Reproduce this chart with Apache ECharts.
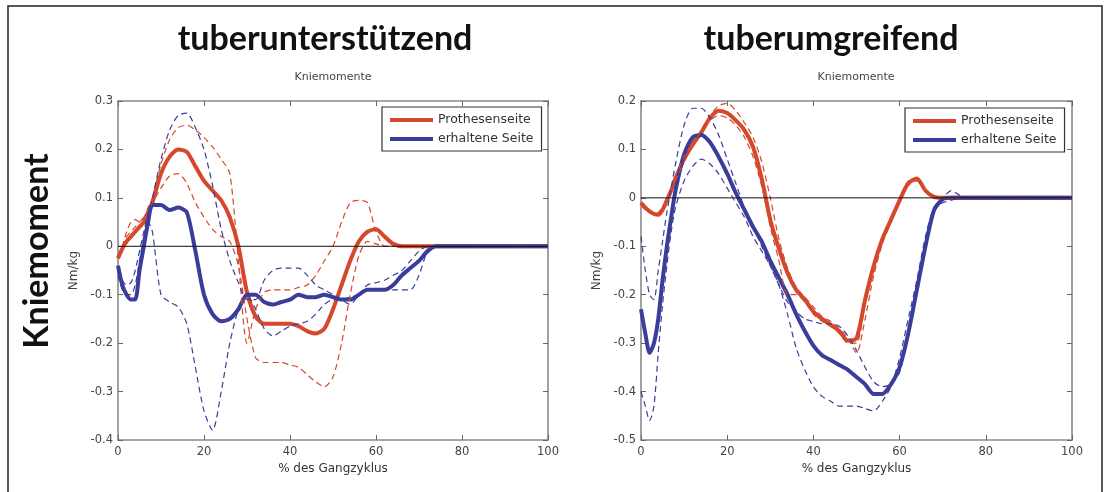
<!DOCTYPE html>
<html><head><meta charset="utf-8">
<script src="https://cdn.jsdelivr.net/npm/echarts@6/dist/echarts.min.js"></script>
<style>html,body{margin:0;padding:0;background:#fff}#c{width:1108px;height:492px}</style>
</head><body><div id="c"></div>
<script>
// x positions (% des Gangzyklus)
const X = [0,1,2,3,4,5,6,7,8,10,12,14,16,18,20,22,24,26,28,30,32,34,36,38,40,42,44,46,48,50,52,54,56,58,60,62,64,66,68,70,72,74,76,100];
const xTicks = [0,20,40,60,80,100];
const titles = ['tuberunterstützend','tuberumgreifend'];
const legendNames = ['Prothesenseite','erhaltene Seite'];

// ---- left: tuberunterstützend ----
const L_redMean = [-0.025,-0.005,0.01,0.02,0.03,0.04,0.05,0.07,0.09, 0.15,0.185,0.2,0.195,0.165,0.135,0.115,0.095,0.06,0.0,-0.095,-0.145,-0.16,-0.16,-0.16,-0.16,-0.165,-0.175,-0.18,-0.17,-0.13,-0.08,-0.03,0.01,0.03,0.035,0.02,0.005,0,0,0,0,0,0, 0];
const L_redUp   = [-0.02,0.0,0.03,0.05,0.055,0.05,0.06,0.08,0.1, 0.17,0.22,0.245,0.25,0.24,0.225,0.205,0.18,0.15,-0.03,-0.2,-0.13,-0.095,-0.09,-0.09,-0.09,-0.085,-0.08,-0.06,-0.03,0.0,0.05,0.09,0.095,0.09,0.03,0.0,0,0,0,0,0,0,0, 0];
const L_redLo   = [-0.02,0.0,0.02,0.03,0.04,0.05,0.06,0.075,0.09, 0.12,0.145,0.15,0.13,0.09,0.06,0.035,0.02,0.01,-0.04,-0.15,-0.23,-0.24,-0.24,-0.24,-0.245,-0.25,-0.265,-0.28,-0.29,-0.27,-0.2,-0.1,-0.02,0.01,0.005,0,0,0,0,0,0,0,0, 0];
const L_blueMean= [-0.04,-0.08,-0.1,-0.11,-0.11,-0.05,0.0,0.05,0.085, 0.085,0.075,0.08,0.07,-0.01,-0.1,-0.14,-0.155,-0.15,-0.13,-0.1,-0.1,-0.115,-0.12,-0.115,-0.11,-0.1,-0.105,-0.105,-0.1,-0.105,-0.11,-0.11,-0.1,-0.09,-0.09,-0.09,-0.08,-0.06,-0.045,-0.03,-0.01,0,0, 0];
const L_blueUp  = [-0.05,-0.07,-0.08,-0.075,-0.05,-0.01,0.03,0.07,0.1, 0.18,0.24,0.27,0.275,0.245,0.2,0.125,0.035,-0.03,-0.075,-0.11,-0.11,-0.07,-0.05,-0.045,-0.045,-0.045,-0.06,-0.08,-0.09,-0.1,-0.11,-0.12,-0.1,-0.08,-0.075,-0.07,-0.06,-0.05,-0.03,-0.01,0,0,0, 0];
const L_blueLo  = [-0.06,-0.09,-0.1,-0.1,-0.08,-0.03,0.02,0.05,0.03, -0.1,-0.115,-0.125,-0.16,-0.25,-0.34,-0.38,-0.3,-0.2,-0.13,-0.1,-0.13,-0.17,-0.185,-0.175,-0.165,-0.16,-0.155,-0.14,-0.12,-0.11,-0.11,-0.105,-0.1,-0.09,-0.09,-0.09,-0.09,-0.09,-0.09,-0.06,-0.01,0,0, 0];

// ---- right: tuberumgreifend ----
const R_redMean = [-0.01,-0.02,-0.028,-0.033,-0.035,-0.025,-0.005,0.015,0.04, 0.08,0.11,0.135,0.165,0.18,0.175,0.16,0.14,0.105,0.04,-0.045,-0.105,-0.155,-0.19,-0.21,-0.235,-0.25,-0.262,-0.275,-0.295,-0.29,-0.21,-0.14,-0.085,-0.045,-0.005,0.03,0.04,0.015,0.002,0,0,0,0, 0];
const R_redUp   = [-0.01,-0.02,-0.03,-0.035,-0.035,-0.025,-0.005,0.015,0.035, 0.075,0.11,0.14,0.17,0.19,0.195,0.18,0.155,0.125,0.075,0.0,-0.085,-0.145,-0.185,-0.205,-0.225,-0.245,-0.255,-0.27,-0.29,-0.32,-0.25,-0.16,-0.095,-0.05,-0.01,0.025,0.035,0.015,0,0,0,0,0, 0];
const R_redLo   = [-0.015,-0.025,-0.03,-0.035,-0.03,-0.02,0.0,0.02,0.045, 0.085,0.115,0.14,0.16,0.17,0.165,0.15,0.125,0.085,0.025,-0.06,-0.13,-0.2,-0.2,-0.215,-0.24,-0.255,-0.265,-0.28,-0.3,-0.3,-0.22,-0.15,-0.09,-0.05,-0.005,0.03,0.04,0.015,0,0,0,0,0, 0];
const R_blueMean= [-0.23,-0.28,-0.32,-0.3,-0.25,-0.17,-0.1,-0.04,0.015, 0.09,0.125,0.13,0.115,0.085,0.05,0.01,-0.025,-0.06,-0.09,-0.13,-0.165,-0.2,-0.24,-0.275,-0.305,-0.325,-0.335,-0.345,-0.355,-0.37,-0.385,-0.405,-0.405,-0.385,-0.35,-0.28,-0.19,-0.1,-0.025,-0.003,0,0,0, 0];
const R_blueUp  = [-0.08,-0.15,-0.2,-0.21,-0.15,-0.09,-0.03,0.02,0.07, 0.15,0.185,0.185,0.165,0.13,0.08,0.03,-0.02,-0.06,-0.1,-0.14,-0.18,-0.215,-0.235,-0.25,-0.255,-0.26,-0.26,-0.265,-0.285,-0.315,-0.35,-0.38,-0.39,-0.385,-0.36,-0.28,-0.18,-0.09,-0.02,0,0.015,0.005,0, 0];
const R_blueLo  = [-0.4,-0.43,-0.46,-0.43,-0.32,-0.22,-0.14,-0.07,-0.02, 0.035,0.065,0.08,0.07,0.05,0.02,-0.01,-0.04,-0.08,-0.11,-0.14,-0.18,-0.24,-0.31,-0.355,-0.39,-0.41,-0.42,-0.43,-0.43,-0.43,-0.435,-0.44,-0.42,-0.39,-0.33,-0.25,-0.17,-0.08,-0.02,-0.01,-0.005,0,0, 0];

const RED = '#d5482b', BLUE = '#393d9c';
const FONT = 'DejaVu Sans';
const pairs = ys => X.map((x, i) => [x, ys[i]]);

const chart = echarts.init(document.getElementById('c'), null, {renderer: 'canvas'});

const grids = [
  {left: 118, top: 101, width: 430, height: 339},
  {left: 641, top: 101, width: 431, height: 339}
];
const yRanges = [[-0.4, 0.3], [-0.5, 0.2]];

const xAxes = [], yAxes = [];
grids.forEach((g, gi) => {
  const axisLine = {show: true, onZero: false, lineStyle: {color: '#8a8a8a', width: 1.6}};
  const tick = {show: true, inside: true, length: 5, lineStyle: {color: '#666', width: 1}};
  xAxes.push({gridIndex: gi, type: 'value', min: 0, max: 100, interval: 20, position: 'bottom',
    axisLine, axisTick: tick, splitLine: {show: false},
    axisLabel: {fontSize: 11.5, color: '#444', fontFamily: FONT, margin: 6},
    name: '% des Gangzyklus', nameLocation: 'middle', nameGap: 22,
    nameTextStyle: {fontSize: 12, color: '#333', fontFamily: FONT}});
  xAxes.push({gridIndex: gi, type: 'value', min: 0, max: 100, interval: 20, position: 'top',
    axisLine, axisTick: tick, splitLine: {show: false}, axisLabel: {show: false}});
  yAxes.push({gridIndex: gi, type: 'value', min: yRanges[gi][0], max: yRanges[gi][1], interval: 0.1, position: 'left',
    axisLine, axisTick: tick, splitLine: {show: false},
    axisLabel: {fontSize: 11.5, color: '#444', fontFamily: FONT, margin: 5,
      formatter: v => String(Math.round(v * 10) / 10)},
    name: 'Nm/kg', nameLocation: 'middle', nameGap: 38, nameRotate: 90,
    nameTextStyle: {fontSize: 12, color: '#444', fontFamily: FONT}});
  yAxes.push({gridIndex: gi, type: 'value', min: yRanges[gi][0], max: yRanges[gi][1], interval: 0.1, position: 'right',
    axisLine, axisTick: tick, splitLine: {show: false}, axisLabel: {show: false}});
});

function mk(name, data, color, width, dashed, gi, z) {
  return {
    name, type: 'line', xAxisIndex: gi * 2, yAxisIndex: gi * 2, data: pairs(data),
    symbol: 'none', showSymbol: false, smooth: 0.25, z,
    lineStyle: {color, width, type: dashed ? [6, 4] : 'solid'},
    itemStyle: {color}, silent: true, animation: false
  };
}
const sets = [
  [L_redMean, L_redUp, L_redLo, L_blueMean, L_blueUp, L_blueLo],
  [R_redMean, R_redUp, R_redLo, R_blueMean, R_blueUp, R_blueLo]
];
const series = [];
sets.forEach((s, gi) => {
  series.push(mk(legendNames[0], s[0], RED, 4, false, gi, 2));
  series.push(mk(legendNames[1], s[3], BLUE, 4, false, gi, 3));
  series.push(mk('rd1', s[1], RED, 1.2, true, gi, 4));
  series.push(mk('rd2', s[2], RED, 1.2, true, gi, 4));
  series.push(mk('bd1', s[4], BLUE, 1.2, true, gi, 5));
  series.push(mk('bd2', s[5], BLUE, 1.2, true, gi, 5));
  series.push({name: 'zero', type: 'line', xAxisIndex: gi * 2, yAxisIndex: gi * 2,
    data: [[0, 0], [100, 0]], symbol: 'none', z: 6, silent: true, animation: false,
    lineStyle: {color: '#111', width: 1}});
});

const legendCommon = {
  orient: 'vertical', data: legendNames, icon: 'rect', itemWidth: 43, itemHeight: 4, itemGap: 5,
  padding: [6, 8, 5, 8], borderColor: '#333', borderWidth: 1.2, backgroundColor: '#fff',
  textStyle: {fontSize: 12.5, color: '#333', fontFamily: FONT, lineHeight: 14},
  selectedMode: false, z: 10
};

chart.setOption({
  animation: false,
  grid: grids,
  xAxis: xAxes,
  yAxis: yAxes,
  series,
  legend: [
    Object.assign({left: 382, top: 107}, legendCommon),
    Object.assign({left: 905, top: 108}, legendCommon)
  ],
  graphic: [
    {type: 'rect', shape: {x: 8, y: 6, width: 1094, height: 500}, style: {fill: 'none', stroke: '#222', lineWidth: 1.5}, silent: true},
    {type: 'text', x: 325, y: 39, style: {text: titles[0], font: 'bold 34px Lato', fill: '#111', textAlign: 'center', textVerticalAlign: 'middle'}},
    {type: 'text', x: 831, y: 39, style: {text: titles[1], font: 'bold 34px Lato', fill: '#111', textAlign: 'center', textVerticalAlign: 'middle'}},
    {type: 'text', x: 37, y: 251, rotation: Math.PI / 2, style: {text: 'Kniemoment', font: 'bold 34px Lato', fill: '#111', textAlign: 'center', textVerticalAlign: 'middle'}},
    {type: 'text', x: 333, y: 77, style: {text: 'Kniemomente', font: '11px "DejaVu Sans"', fill: '#444', textAlign: 'center', textVerticalAlign: 'middle'}},
    {type: 'text', x: 856, y: 77, style: {text: 'Kniemomente', font: '11px "DejaVu Sans"', fill: '#444', textAlign: 'center', textVerticalAlign: 'middle'}}
  ]
});
</script>
</body></html>
